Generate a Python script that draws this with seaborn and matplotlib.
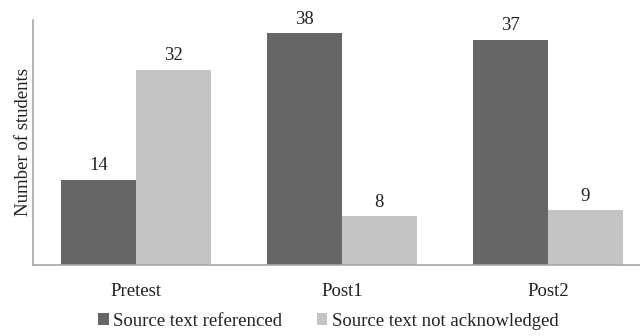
import matplotlib
matplotlib.use("Agg")
import matplotlib.pyplot as plt
import seaborn as sns
import pandas as pd
from matplotlib.patches import Patch

categories = ["Pretest", "Post1", "Post2"]
series_names = ["Source text referenced", "Source text not acknowledged"]
referenced = [14, 38, 37]
not_acknowledged = [32, 8, 9]
colors = ["#666666", "#c4c4c4"]

df = pd.DataFrame({
    "Test": categories * 2,
    "Series": [series_names[0]] * 3 + [series_names[1]] * 3,
    "Count": referenced + not_acknowledged,
})

sns.set_style("white")
plt.rcParams["font.family"] = ["Liberation Serif", "DejaVu Serif"]
FS = 13.5
TXT = "#222222"

fig = plt.figure(figsize=(6.4, 3.36), dpi=100)
ax = fig.add_axes([33 / 640, 1 - 265 / 336, 607 / 640, 245 / 336])

sns.barplot(data=df, x="Test", y="Count", hue="Series", order=categories,
            hue_order=series_names, palette=colors, width=0.726,
            saturation=1, ax=ax, legend=False, linewidth=0, edgecolor="none")

for cont in ax.containers:
    ax.bar_label(cont, padding=4, fontsize=FS, color=TXT)

ax.set_ylim(0, 40.2)
ax.set_xlim(-0.5, 2.447)
ax.set_yticks([])
ax.set_xlabel("")
ax.set_ylabel("Number of students", fontsize=FS, color=TXT, labelpad=1)
ax.tick_params(axis="x", length=0, labelsize=FS, colors=TXT, pad=13)
for s in ["top", "right"]:
    ax.spines[s].set_visible(False)
for s in ["left", "bottom"]:
    ax.spines[s].set_color("#a6a6a6")
    ax.spines[s].set_linewidth(1.2)

handles = [Patch(facecolor=c, edgecolor="none") for c in colors]
fig.legend(handles, series_names, loc="center", bbox_to_anchor=(328.5 / 640, 1 - 321 / 336),
           ncol=2, frameon=False, fontsize=FS, handlelength=0.55, handleheight=0.55,
           handletextpad=0.25, columnspacing=1.85, labelcolor=TXT,
           borderpad=0, borderaxespad=0)

fig.savefig("out.png", dpi=100)
